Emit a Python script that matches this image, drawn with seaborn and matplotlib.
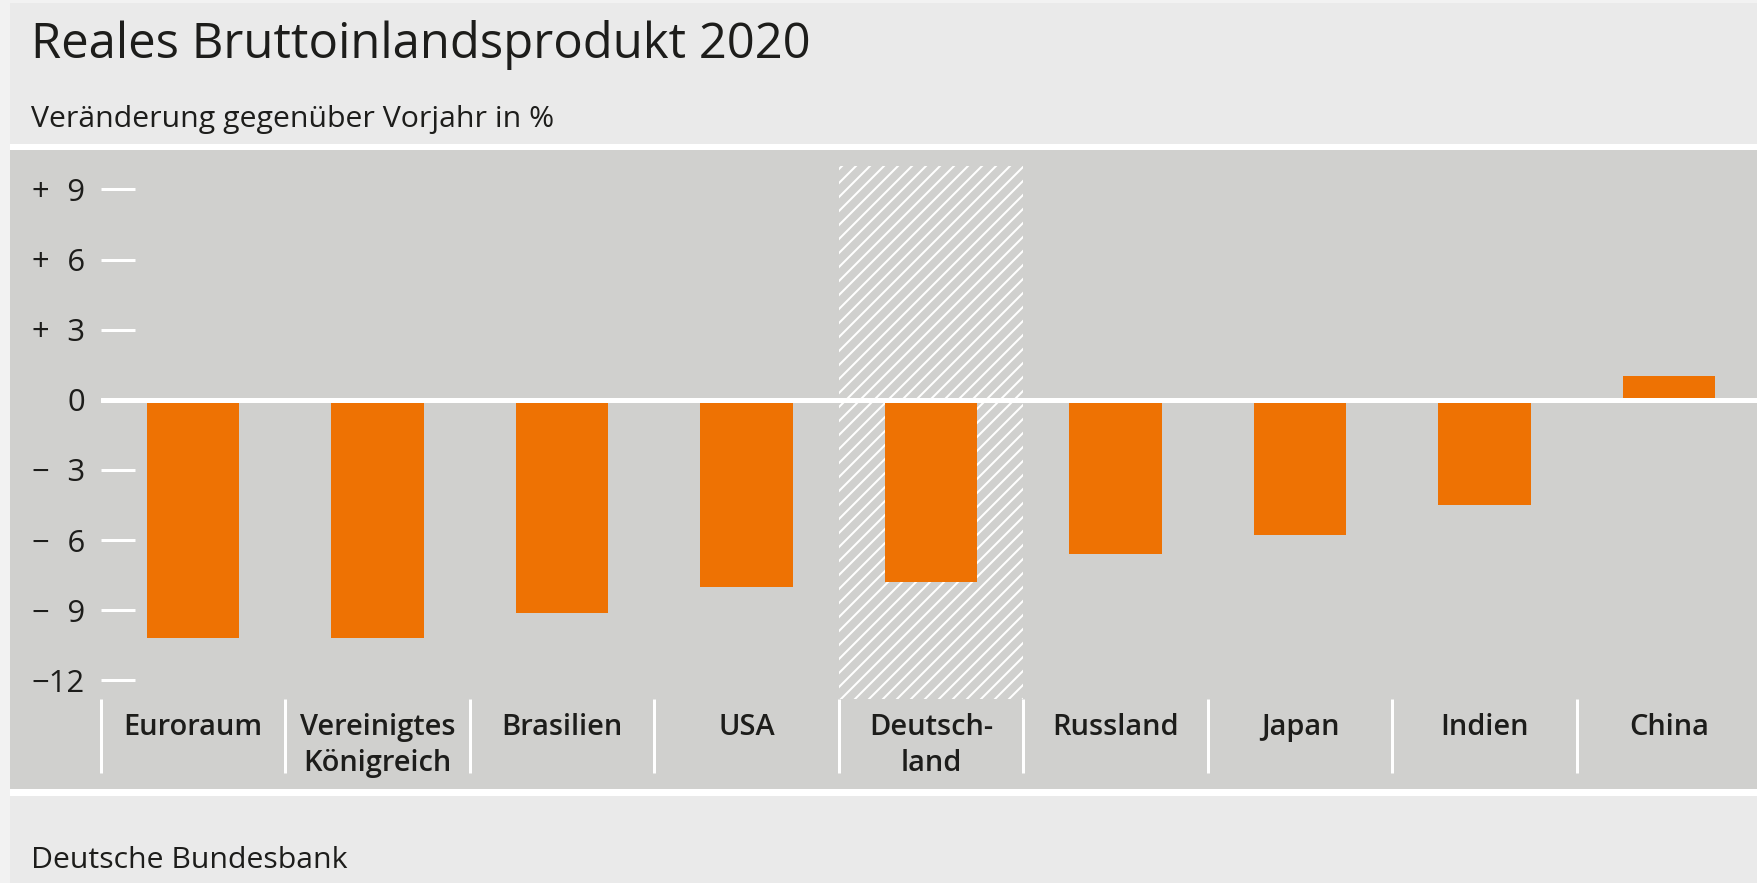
import numpy as np
import matplotlib
matplotlib.use("Agg")
import matplotlib.pyplot as plt
from matplotlib.patches import Rectangle
import seaborn as sns

countries = ["Euroraum", "Vereinigtes\nKönigreich", "Brasilien", "USA", "Deutsch-\nland",
             "Russland", "Japan", "Indien", "China"]
values = [-10.2, -10.2, -9.1, -8.0, -7.8, -6.6, -5.8, -4.5, 1.0]
highlight = "Deutsch-\nland"
yticks = [-12, -9, -6, -3, 0, 3, 6, 9]
ylabels = ["\u221212", "\u2212\u20079", "\u2212\u20076", "\u2212\u20073", "0",
           "+\u20073", "+\u20076", "+\u20079"]

title = "Reales Bruttoinlandsprodukt 2020"
subtitle = "Veränderung gegenüber Vorjahr in %"
source = "Deutsche Bundesbank"

ORANGE = "#EE7203"
PANEL = "#D0D0CE"
BG = "#EAEAEA"
TEXT = "#1D1D1B"

W, H, DPI = 1757, 883, 84


def px(v):
    # pixels -> points
    return v * 72 / DPI


sns.set_style("white")
plt.rcParams["font.family"] = ["Open Sans", "DejaVu Sans"]
plt.rcParams["hatch.linewidth"] = px(2)
plt.rcParams["hatch.color"] = "white"
plt.rcParams["text.color"] = TEXT

fig = plt.figure(figsize=(W / DPI, H / DPI), dpi=DPI, facecolor=BG)


def frect(x0, y0, x1, y1, color):
    fig.add_artist(Rectangle((x0 / W, 1 - y1 / H), (x1 - x0) / W, (y1 - y0) / H,
                             transform=fig.transFigure, facecolor=color,
                             edgecolor="none", zorder=-1))


frect(0, 0, 10, H, "#F2F2F2")
frect(0, 0, W, 3, "#F2F2F2")
frect(10, 144, W, 150, "white")
frect(10, 150, W, 789, PANEL)
frect(10, 789, W, 796, "white")

ax_left, ax_right, ax_top, ax_bottom = 100.8, 1761.3, 166, 699
ax = fig.add_axes([ax_left / W, 1 - ax_bottom / H, (ax_right - ax_left) / W, (ax_bottom - ax_top) / H])
ax.set_facecolor(PANEL)

sns.barplot(x=countries, y=values, color=ORANGE, saturation=1, width=0.5,
            linewidth=0, ax=ax, zorder=2)

hi = countries.index(highlight)
ax.axvspan(hi - 0.5, hi + 0.5, facecolor="none", edgecolor="white", hatch="//",
           linewidth=0, zorder=1)
ax.axhline(0, color="white", lw=px(5), zorder=3)

ax.set_xlim(-0.5, len(countries) - 0.5)
ax.set_ylim(-12.8, 10)
ax.set_xlabel("")
ax.set_ylabel("")
for s in ax.spines.values():
    s.set_visible(False)

ax.set_yticks(yticks)
ax.set_yticklabels(ylabels)
ax.tick_params(axis="y", left=True, direction="in", length=px(34), width=px(3), color="white",
               pad=px(16), labelsize=px(31), labelcolor=TEXT)

ax.set_xticks(range(len(countries)))
ax.set_xticklabels(countries, fontsize=px(29), fontweight="semibold", linespacing=1.3)
ax.set_xticks(np.arange(-0.5, len(countries), 1), minor=True)
ax.tick_params(axis="x", which="major", bottom=True, length=0, pad=px(14), labelcolor=TEXT)
ax.tick_params(axis="x", which="minor", bottom=True, direction="out", length=px(74),
               width=px(3), color="white")

fig.text(31 / W, 1 - 58.3 / H, title, fontsize=px(49), va="baseline", ha="left")
fig.text(31 / W, 1 - 126.7 / H, subtitle, fontsize=px(30.3), va="baseline", ha="left")
fig.text(31 / W, 1 - 868.3 / H, source, fontsize=px(30.3), va="baseline", ha="left")

fig.savefig("out.png", dpi=DPI, facecolor=BG)
